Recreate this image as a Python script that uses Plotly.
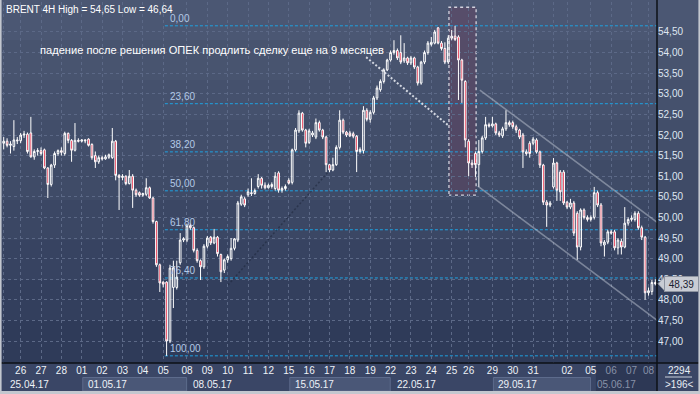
import plotly.graph_objects as go

# ---------------- data ----------------
dates = ["25.04.17", "26.04.17", "27.04.17", "28.04.17",
         "01.05.17", "02.05.17", "03.05.17", "04.05.17", "05.05.17",
         "08.05.17", "09.05.17", "10.05.17", "11.05.17", "12.05.17",
         "15.05.17", "16.05.17", "17.05.17", "18.05.17", "19.05.17",
         "22.05.17", "23.05.17", "24.05.17", "25.05.17", "26.05.17",
         "29.05.17", "30.05.17", "31.05.17", "01.06.17", "02.06.17",
         "05.06.17", "06.06.17", "07.06.17", "08.06.17"]
bars_per_day = [5, 6, 6, 6,
                6, 6, 6, 6, 7,
                6, 6, 6, 6, 6,
                6, 6, 6, 6, 6,
                6, 6, 6, 5, 7,
                6, 6, 6, 4, 7,
                6, 6, 5, 3]
week_starts = ["25.04.17", "01.05.17", "08.05.17", "15.05.17", "22.05.17", "29.05.17", "05.06.17"]
hidden_day_labels = ["25.04.17", "01.06.17"]
dim_day_labels = ["06.06.17", "07.06.17", "08.06.17"]

open_ = [51.80, 51.85, 51.75, 51.72, 51.88, 51.86, 52.00, 52.02, 52.05, 51.47,
         51.60, 51.62, 51.64, 51.20, 50.80, 51.27, 51.55, 51.62, 51.55, 52.04,
         51.87, 51.63, 51.87, 51.85, 51.88, 51.90, 51.77, 51.50, 51.35, 51.45,
         51.42, 51.46, 51.45, 51.85, 51.02, 50.97, 51.00, 50.82, 51.00, 50.66,
         50.60, 50.54, 50.56, 50.72, 50.47, 49.90, 48.85, 48.43, 48.43, 47.00,
         48.30, 48.30, 48.90, 49.45, 49.45, 49.80, 49.75, 49.20, 48.95, 48.80,
         49.30, 49.52, 49.38, 49.52, 49.10, 48.72, 48.97, 49.00, 49.25, 49.45,
         50.32, 50.45, 50.55, 50.60, 50.58, 50.75, 50.95, 50.78, 50.72, 50.75,
         50.70, 51.08, 50.66, 50.70, 50.90, 50.85, 51.64, 52.10, 52.53, 52.12,
         51.82, 52.00, 51.95, 52.30, 52.12, 51.95, 51.28, 51.15, 51.28, 51.70,
         52.36, 52.07, 52.05, 52.03, 51.97, 51.60, 51.62, 52.60, 52.38, 52.55,
         52.90, 53.10, 53.30, 53.58, 53.82, 54.00, 54.05, 54.00, 53.80, 53.87,
         53.75, 53.87, 53.65, 53.26, 53.77, 54.00, 54.20, 54.23, 54.60, 54.23,
         54.10, 53.77, 54.35, 54.40, 54.38, 53.82, 53.30, 51.85, 51.32, 51.55,
         51.28, 51.60, 51.93, 52.25, 52.22, 52.27, 52.05, 51.98, 52.15, 52.30,
         52.30, 52.20, 52.12, 52.00, 51.59, 51.80, 51.80, 51.88, 51.59, 51.27,
         50.37, 50.30, 50.74, 51.32, 51.10, 51.10, 50.37, 50.25, 50.35, 50.10,
         49.28, 50.18, 50.00, 49.95, 50.00, 50.60, 50.30, 49.33, 49.40, 49.65,
         49.65, 49.26, 49.42, 49.28, 49.86, 49.95, 49.95, 50.10, 49.75, 49.52,
         48.17, 48.20, 48.42]
high = [51.95, 51.92, 51.85, 52.36, 51.95, 52.05, 52.10, 52.06, 52.44, 51.65,
        51.68, 51.70, 51.67, 51.22, 51.30, 51.60, 51.65, 51.70, 52.08, 52.06,
        51.90, 52.29, 51.92, 51.90, 51.90, 51.92, 51.80, 51.60, 51.50, 51.50,
        51.52, 51.55, 52.17, 51.88, 51.05, 51.05, 51.02, 51.15, 51.05, 50.70,
        50.63, 50.60, 50.95, 50.75, 50.50, 49.92, 48.88, 48.45, 48.45, 48.85,
        48.95, 48.95, 49.62, 49.52, 49.85, 49.85, 49.78, 49.25, 48.98, 49.35,
        49.55, 49.55, 49.72, 49.55, 49.12, 49.00, 49.10, 49.50, 49.50, 50.40,
        50.55, 50.50, 50.70, 50.95, 50.70, 51.05, 50.98, 50.85, 50.82, 50.85,
        51.10, 51.12, 50.75, 50.80, 50.95, 51.67, 52.17, 52.60, 52.56, 52.15,
        52.15, 52.10, 52.40, 52.35, 52.15, 51.98, 51.30, 51.45, 51.75, 52.60,
        52.40, 52.10, 52.10, 52.08, 52.00, 51.70, 52.70, 52.65, 52.60, 52.95,
        53.20, 53.35, 53.62, 53.85, 54.05, 54.30, 54.10, 54.42, 54.23, 53.90,
        53.92, 53.90, 53.68, 53.80, 54.05, 54.28, 54.38, 54.55, 54.62, 54.28,
        54.25, 54.42, 54.55, 54.65, 54.42, 53.85, 53.33, 51.90, 51.40, 51.60,
        51.88, 51.98, 52.44, 52.30, 52.44, 52.30, 52.10, 52.20, 52.60, 52.35,
        52.35, 52.25, 52.15, 52.05, 51.65, 51.85, 51.95, 51.92, 51.62, 51.30,
        50.42, 50.40, 51.44, 51.35, 51.15, 51.15, 50.40, 50.45, 50.40, 50.15,
        50.22, 50.22, 50.05, 50.05, 50.74, 50.65, 50.35, 49.45, 49.70, 49.70,
        49.70, 49.50, 49.48, 50.25, 50.00, 50.05, 50.15, 50.15, 49.80, 49.55,
        48.30, 48.48, 48.50]
low = [51.65, 51.70, 51.55, 51.62, 51.78, 51.80, 51.93, 51.55, 51.45, 51.40,
       51.50, 51.50, 51.17, 50.47, 50.75, 51.20, 51.50, 51.50, 51.50, 51.80,
       51.35, 51.60, 51.82, 51.82, 51.80, 51.72, 51.40, 51.20, 51.30, 51.38,
       51.40, 51.42, 51.42, 50.90, 50.18, 50.90, 50.78, 50.80, 50.23, 50.50,
       50.50, 50.50, 50.52, 50.45, 49.85, 48.80, 48.19, 48.30, 46.64, 46.95,
       47.80, 48.25, 48.85, 49.40, 49.40, 49.70, 49.15, 48.90, 48.48, 48.75,
       49.25, 49.33, 49.35, 49.05, 48.43, 48.65, 48.90, 48.95, 49.20, 49.40,
       50.28, 50.25, 50.50, 50.52, 50.55, 50.70, 50.70, 50.68, 50.70, 50.70,
       50.65, 50.60, 50.60, 50.65, 50.80, 50.80, 51.60, 52.05, 52.08, 51.70,
       51.78, 51.95, 51.90, 52.08, 51.90, 51.10, 51.10, 51.12, 51.25, 51.65,
       52.02, 51.95, 51.95, 51.92, 51.10, 51.55, 51.55, 52.33, 52.30, 52.50,
       52.85, 53.05, 53.25, 53.55, 53.78, 53.95, 53.82, 53.72, 53.75, 53.70,
       53.70, 53.60, 53.20, 53.22, 53.72, 53.95, 54.15, 54.20, 54.20, 54.05,
       53.72, 53.72, 54.30, 54.28, 52.85, 52.78, 51.70, 51.00, 51.20, 50.98,
       50.74, 51.55, 51.88, 52.18, 52.18, 52.00, 51.95, 51.93, 52.10, 52.20,
       52.15, 52.05, 51.90, 51.20, 51.50, 51.45, 51.75, 51.55, 51.20, 50.30,
       49.77, 50.25, 50.70, 50.40, 50.40, 50.30, 50.20, 50.20, 49.55, 48.97,
       49.20, 49.95, 49.90, 49.90, 49.95, 50.25, 49.30, 49.05, 49.35, 49.58,
       49.20, 49.10, 49.10, 49.25, 49.80, 49.90, 49.90, 49.70, 49.45, 48.00,
       48.10, 48.12, 48.35]
close = [51.85, 51.75, 51.78, 51.88, 51.86, 52.00, 52.02, 51.60, 51.47, 51.60,
         51.62, 51.55, 51.20, 50.80, 51.27, 51.55, 51.62, 51.58, 52.04, 51.87,
         51.63, 51.87, 51.85, 51.88, 51.86, 51.75, 51.45, 51.35, 51.45, 51.42,
         51.47, 51.52, 51.85, 51.02, 50.97, 51.00, 50.82, 51.00, 50.66, 50.55,
         50.54, 50.58, 50.72, 50.47, 49.90, 48.85, 48.41, 48.38, 47.00, 48.77,
         48.78, 48.55, 49.45, 49.48, 49.80, 49.75, 49.20, 48.95, 48.80, 49.30,
         49.50, 49.38, 49.52, 49.12, 48.68, 48.97, 49.05, 49.25, 49.48, 50.35,
         50.50, 50.30, 50.62, 50.58, 50.65, 50.95, 50.78, 50.72, 50.78, 50.80,
         51.00, 50.66, 50.70, 50.75, 50.83, 51.64, 52.12, 52.53, 52.12, 51.80,
         52.10, 52.05, 52.30, 52.12, 51.95, 51.28, 51.15, 51.28, 51.70, 52.36,
         52.07, 52.00, 51.98, 51.97, 51.60, 51.65, 52.60, 52.38, 52.55, 52.90,
         53.14, 53.30, 53.58, 53.82, 54.00, 54.05, 53.87, 53.77, 53.87, 53.75,
         53.87, 53.65, 53.26, 53.77, 54.00, 54.23, 54.25, 54.50, 54.23, 54.10,
         53.77, 54.35, 54.40, 54.32, 53.82, 53.33, 51.88, 51.32, 51.28, 51.28,
         51.60, 51.93, 52.25, 52.22, 52.27, 52.05, 52.00, 52.15, 52.30, 52.25,
         52.20, 52.12, 51.95, 51.59, 51.55, 51.55, 51.90, 51.59, 51.27, 50.37,
         50.30, 50.35, 51.32, 50.66, 50.62, 50.35, 50.25, 50.35, 49.62, 49.28,
         50.18, 50.00, 49.95, 50.00, 50.60, 50.30, 49.38, 49.40, 49.65, 49.62,
         49.26, 49.45, 49.28, 49.86, 49.95, 49.98, 50.10, 49.75, 49.52, 48.17,
         48.22, 48.42, 48.39]

fib_ratios = [0.0, 23.6, 38.2, 50.0, 61.8, 76.4, 100.0]
price_ticks = [47.0, 47.5, 48.0, 48.5, 49.0, 49.5, 50.0, 50.5, 51.0, 51.5, 52.0, 52.5, 53.0, 53.5, 54.0, 54.5]

annotation_text = "падение после решения ОПЕК продлить сделку еще на 9 месяцев"
symbol_label = "BRENT 4H"
corner_top = "2294"
corner_bottom = ">196<"

# drawing objects (bar index, price)
highlight_box = dict(x0=131.2, x1=139.2, y0=50.54, y1=55.10)
channel_upper = dict(x0=140.3, y0=53.09, x1=196.0, y1=49.67)
channel_lower = dict(x0=139.7, y0=50.76, x1=196.0, y1=47.29)
pointer_line = dict(x0=106.8, y0=53.89, x1=131.2, y1=52.22)
faint_trend = dict(x0=66.1, y0=48.36, x1=96.1, y1=51.15)

# ---------------- helpers ----------------
def fmt(v):
    return f"{v:.2f}".replace(".", ",")

n = len(close)
x = list(range(n))
first_bar = []
acc = 0
for c in bars_per_day:
    first_bar.append(acc)
    acc += c
day_first = dict(zip(dates, first_bar))

XMIN, XMAX = -0.5, n - 0.5
YMIN, YMAX = 46.466, 55.228

W, H = 700, 394
ML, MR, MT, MB = 2, 43, 2, 31
PW, PH = W - ML - MR, H - MT - MB


def pxx(px):
    return (px - ML) / PW


def pxy(py):
    return (H - MB - py) / PH


def bar_to_paper(i):
    return (i - XMIN) / (XMAX - XMIN)


def price_to_paper(p):
    return (p - YMIN) / (YMAX - YMIN)


tick_vals, tick_text = [], []
for d, fb in zip(dates, first_bar):
    tick_vals.append(fb)
    lab = d[:2]
    if d in hidden_day_labels:
        lab = ""
    elif d in dim_day_labels:
        lab = f'<span style="color:#8892a8">{lab}</span>'
    tick_text.append(lab)

hi_v = max(high)
lo_v = min(low)
lo_idx = low.index(lo_v)

fig = go.Figure()
fig.add_trace(go.Candlestick(
    x=x, open=open_, high=high, low=low, close=close,
    increasing=dict(line=dict(color="#ffffff", width=1), fillcolor="rgba(0,0,0,0)"),
    decreasing=dict(line=dict(color="#ffffff", width=1), fillcolor="#e5102f"),
    whiskerwidth=0, hoverinfo="skip", showlegend=False))

shapes = []
# background bands (full width)
bands = [(0, 40, "#4b5773"), (40, 80, "#48546f"), (80, 120, "#45516d"), (120, 160, "#424e6a"),
         (160, 200, "#3f4b67"), (200, 240, "#3b4764"), (240, 280, "#374361"), (280, 320, "#333f5d"),
         (320, 363, "#2f3b59")]
for y0, y1, col in bands:
    shapes.append(dict(type="rect", xref="paper", yref="paper", x0=pxx(0), x1=pxx(W),
                       y0=pxy(y1), y1=pxy(y0), fillcolor=col, line=dict(width=0), layer="below"))
# bottom axis area
shapes.append(dict(type="rect", xref="paper", yref="paper", x0=pxx(0), x1=pxx(W),
                   y0=pxy(391), y1=pxy(363), fillcolor="#3a4666", line=dict(width=0), layer="below"))
# week boxes (alternate weeks)
wk_first = [day_first[w] for w in week_starts]
for k in range(1, len(wk_first) - 1, 2):
    shapes.append(dict(type="rect", xref="paper", yref="paper",
                       x0=bar_to_paper(wk_first[k] + 0.3), x1=bar_to_paper(wk_first[k + 1] - 0.1),
                       y0=pxy(391), y1=pxy(377.5), fillcolor="#4a5777",
                       line=dict(color="#5d6b8c", width=1), layer="below"))
# darker tail region in the date strip
shapes.append(dict(type="rect", xref="paper", yref="paper",
                   x0=bar_to_paper(day_first["05.06.17"] + 1.5), x1=1.0,
                   y0=pxy(391), y1=pxy(363.5), fillcolor="#2d3855", line=dict(width=0), layer="below"))

# highlighted period
shapes.append(dict(type="rect", xref="x", yref="y", **highlight_box,
                   fillcolor="rgba(102,66,96,0.45)",
                   line=dict(color="rgba(225,225,235,0.9)", width=1.3, dash="dot"), layer="below"))

# Fibonacci levels
for r in fib_ratios:
    lvl = hi_v - (hi_v - lo_v) * r / 100.0
    shapes.append(dict(type="line", xref="x", yref="y", x0=lo_idx - 0.5, x1=XMAX,
                       y0=lvl, y1=lvl, line=dict(color="#1ea2e2", width=1, dash="3px,2px"),
                       layer="below"))

# channel and pointer lines
for ln in (channel_upper, channel_lower):
    shapes.append(dict(type="line", xref="x", yref="y", **ln,
                       line=dict(color="rgba(205,210,222,0.45)", width=1.6), layer="above"))
shapes.append(dict(type="line", xref="x", yref="y", **pointer_line,
                   line=dict(color="rgba(225,228,236,0.9)", width=2, dash="2px,2px"), layer="above"))
shapes.append(dict(type="line", xref="x", yref="y", **faint_trend,
                   line=dict(color="rgba(30,38,58,0.55)", width=1.5, dash="2px,2px"), layer="below"))

# separators
shapes.append(dict(type="line", xref="paper", yref="paper", x0=1.0, x1=1.0, y0=pxy(391), y1=pxy(0),
                   line=dict(color="#0c1016", width=1.5)))
shapes.append(dict(type="line", xref="paper", yref="paper", x0=pxx(0), x1=pxx(W), y0=0, y1=0,
                   line=dict(color="#0c1016", width=1.5)))
shapes.append(dict(type="line", xref="paper", yref="paper", x0=pxx(665), x1=pxx(692),
                   y0=pxy(377), y1=pxy(377), line=dict(color="#c8cfdb", width=1)))
# window frame
for (a, b, c, d) in [(0, 1.6, 0, 394), (0, 700, 391, 394), (698.4, 700, 0, 394)]:
    shapes.append(dict(type="rect", xref="paper", yref="paper", x0=pxx(a), x1=pxx(b),
                       y0=pxy(d), y1=pxy(c), fillcolor="#c3c7cf", line=dict(width=0)))

# last price marker (arrow tip)
last = close[-1]
yc = price_to_paper(last)
hh = 7 / PH
x_tip, x_a = pxx(658), pxx(664.5)
shapes.append(dict(type="path", xref="paper", yref="paper",
                   path=f"M {x_tip},{yc} L {x_a},{yc + hh} L {x_a},{yc - hh} Z",
                   fillcolor="#c9ccd4", line=dict(color="#8d93a0", width=1)))

annotations = []
annotations.append(dict(xref="paper", yref="paper", x=pxx(4), y=pxy(9), xanchor="left", yanchor="middle",
                        text=f"{symbol_label} High = {fmt(hi_v)} Low = {fmt(lo_v)}", showarrow=False,
                        font=dict(size=10, color="#ffffff")))
annotations.append(dict(xref="paper", yref="paper", x=pxx(38), y=pxy(50), xanchor="left", yanchor="middle",
                        text=annotation_text, showarrow=False, font=dict(size=11.1, color="#ffffff")))
for r in fib_ratios:
    lvl = hi_v - (hi_v - lo_v) * r / 100.0
    annotations.append(dict(xref="x", yref="y", x=lo_idx, y=lvl, xanchor="left", yanchor="bottom",
                            xshift=1, yshift=0, text=fmt(r), showarrow=False,
                            font=dict(size=10, color="#b3c9e6")))
for w, fb in zip(week_starts, wk_first):
    col = "#8892a8" if w == "05.06.17" else "#eef2f7"
    annotations.append(dict(xref="x", yref="paper", x=fb, y=pxy(384), xanchor="left", yanchor="middle",
                            xshift=4, text=w, showarrow=False, font=dict(size=10, color=col)))
annotations.append(dict(xref="paper", yref="y", x=pxx(663.5), y=last, xanchor="left", yanchor="middle",
                        text=fmt(last), showarrow=False, width=31, height=12, align="center",
                        bgcolor="#c9ccd4", bordercolor="#8d93a0", borderwidth=1, borderpad=1,
                        font=dict(size=10, color="#1a2030")))
annotations.append(dict(xref="paper", yref="paper", x=pxx(679), y=pxy(370), xanchor="center", yanchor="middle",
                        text=corner_top, showarrow=False, font=dict(size=10, color="#e8edf4")))
annotations.append(dict(xref="paper", yref="paper", x=pxx(679), y=pxy(384), xanchor="center", yanchor="middle",
                        text=corner_bottom, showarrow=False, font=dict(size=10, color="#e8edf4")))

fig.update_layout(
    width=W, height=H, margin=dict(l=ML, r=MR, t=MT, b=MB),
    paper_bgcolor="#3a4666", plot_bgcolor="rgba(0,0,0,0)",
    showlegend=False, hovermode=False,
    font=dict(family="Liberation Sans, Arial, sans-serif", size=10, color="#e6ebf2"),
    xaxis=dict(range=[XMIN, XMAX], rangeslider=dict(visible=False), tickmode="array",
               tickvals=tick_vals, ticktext=tick_text, showgrid=True, gridcolor="#5c6987",
               griddash="3px,3px", gridwidth=1, ticks="", showline=False, zeroline=False,
               tickfont=dict(size=10, color="#eef2f7"), fixedrange=True),
    yaxis=dict(range=[YMIN, YMAX], side="right", tickmode="array", tickvals=price_ticks,
               ticktext=[fmt(v) for v in price_ticks], showgrid=True, gridcolor="#5c6987",
               griddash="3px,3px", gridwidth=1, ticks="", showline=False, zeroline=False,
               tickfont=dict(size=10, color="#dfe6f1"), fixedrange=True),
    shapes=shapes, annotations=annotations,
)

fig.write_html("out.html")
